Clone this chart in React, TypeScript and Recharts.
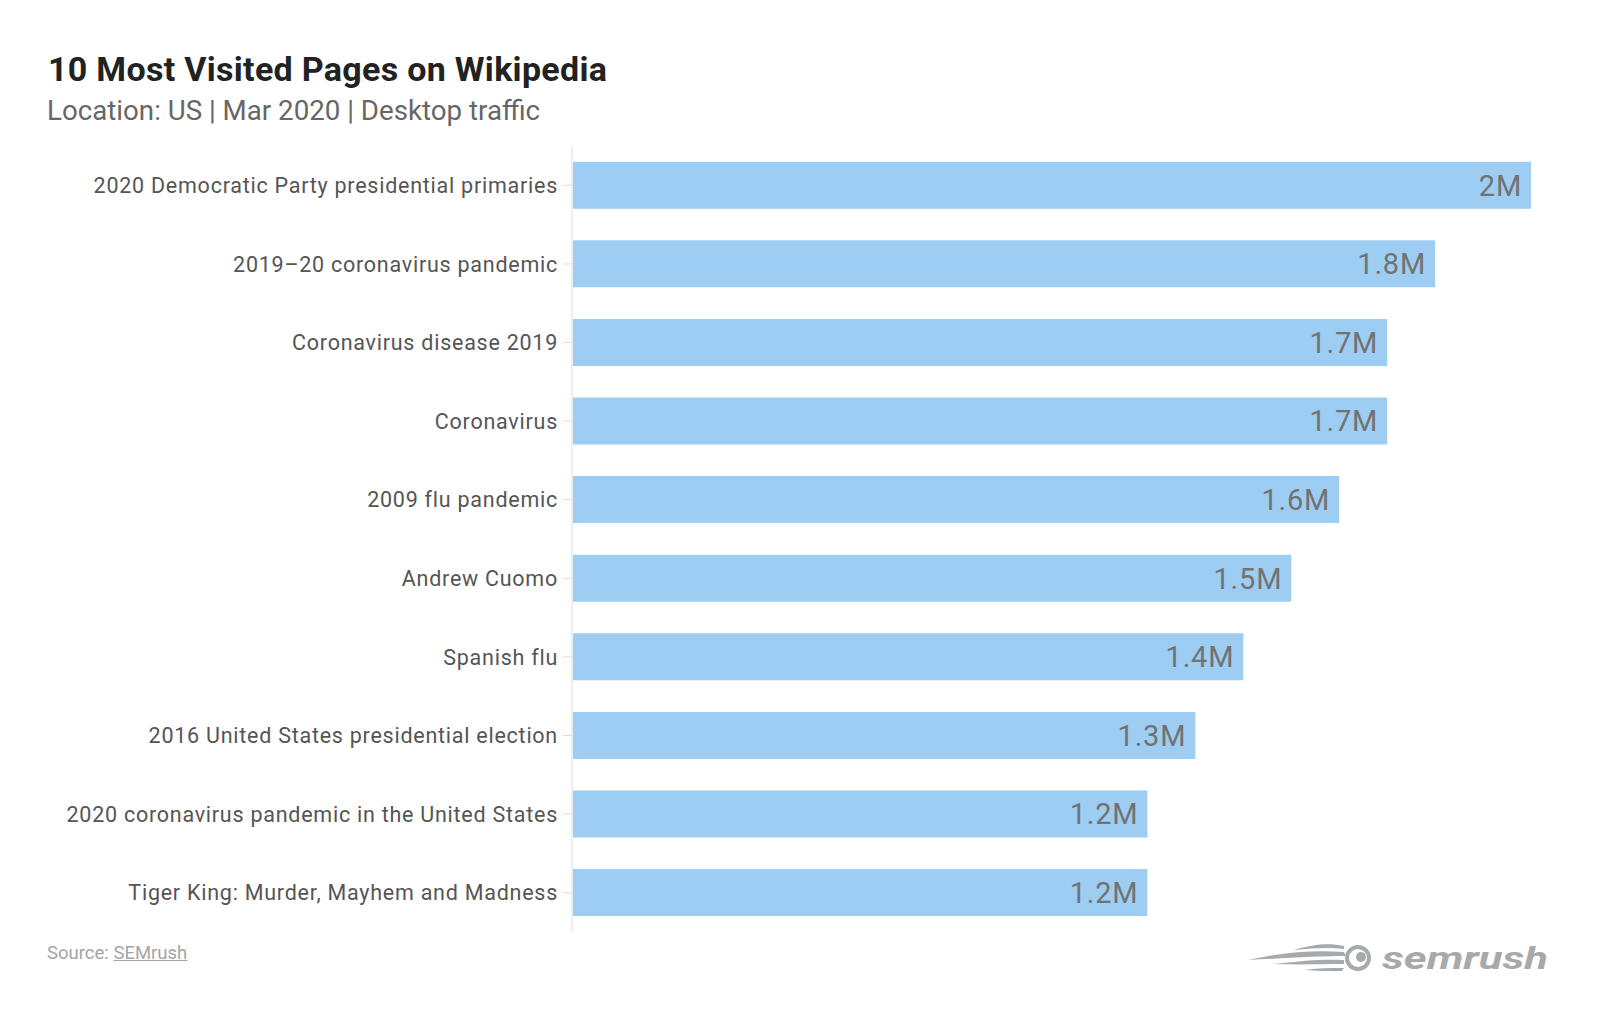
import { BarChart, Bar, XAxis, YAxis, LabelList } from "recharts";

const pages = [
  "2020 Democratic Party presidential primaries",
  "2019–20 coronavirus pandemic",
  "Coronavirus disease 2019",
  "Coronavirus",
  "2009 flu pandemic",
  "Andrew Cuomo",
  "Spanish flu",
  "2016 United States presidential election",
  "2020 coronavirus pandemic in the United States",
  "Tiger King: Murder, Mayhem and Madness",
];

// visits in millions
const visits = [2, 1.8, 1.7, 1.7, 1.6, 1.5, 1.4, 1.3, 1.2, 1.2];

const data = pages.map((page, i) => ({ page, visits: visits[i] }));

const FONT = "Roboto, 'Noto Sans', sans-serif";

const SemrushLogo = () => (
  <svg width={320} height={44} viewBox="0 0 320 44" style={{ position: "absolute", left: 1244, top: 938 }}>
    <g fill="#a7aaad">
      <path d="M4 22 C40 14 70 12 100 14 L102 18 C75 18 45 20 4 22 Z" />
      <path d="M30 26 C60 22 85 21 100 22 L100 26 C80 26 55 27 30 26 Z" />
      <path d="M50 12 C70 6 85 5 100 8 L100 11 C85 9 70 10 50 12 Z" />
      <path d="M60 32 C75 30 88 30 100 30 L98 33 C85 33 72 33 60 32 Z" />
      <circle cx={114} cy={20} r={13} />
      <circle cx={114} cy={20} r={9} fill="#fff" />
      <circle cx={117} cy={19} r={5} />
    </g>
    <text
      x={138}
      y={31}
      fontFamily={FONT}
      fontSize={31}
      fontWeight={700}
      fontStyle="italic"
      fill="#a7aaad"
      textLength={166}
      lengthAdjust="spacingAndGlyphs"
    >
      semrush
    </text>
  </svg>
);

export default function App() {
  return (
    <div style={{ position: "absolute", left: 0, top: 0, width: 1600, height: 1031, background: "#fff", fontFamily: FONT }}>
      <div style={{ position: "absolute", left: 48, top: 49, fontSize: 34, fontWeight: 700, color: "#222", letterSpacing: 0.3 }}>
        10 Most Visited Pages on Wikipedia
      </div>
      <div style={{ position: "absolute", left: 47, top: 94, fontSize: 27.7, color: "#666" }}>
        Location: US | Mar 2020 | Desktop traffic
      </div>
      <div style={{ position: "absolute", left: 0, top: 0 }}>
        <BarChart
          width={1600}
          height={1031}
          data={data}
          layout="vertical"
          barCategoryGap="20%"
          margin={{ top: 146, right: 69, bottom: 99, left: 0 }}
        >
          <XAxis type="number" domain={[0, 2]} hide />
          <YAxis
            type="category"
            dataKey="page"
            width={572}
            axisLine={{ stroke: "#eeeeee", strokeWidth: 2 }}
            tickLine={{ stroke: "#dddddd" }}
            tickSize={9}
            tickMargin={5}
            tick={{ fontSize: 21.5, fill: "#555", fontFamily: FONT, letterSpacing: 0.75 }}
          />
          <Bar dataKey="visits" fill="#9dcdf2" isAnimationActive={false}>
            <LabelList
              dataKey="visits"
              position="insideRight"
              offset={9}
              formatter={(v: any) => `${v}M`}
              style={{ fontSize: 29, fill: "#727272", fontFamily: FONT, letterSpacing: 0.8 }}
            />
          </Bar>
        </BarChart>
      </div>
      <div style={{ position: "absolute", left: 47, top: 942, fontSize: 18.5, color: "#a5a5a5" }}>
        Source: <span style={{ textDecoration: "underline" }}>SEMrush</span>
      </div>
      <SemrushLogo />
    </div>
  );
}
